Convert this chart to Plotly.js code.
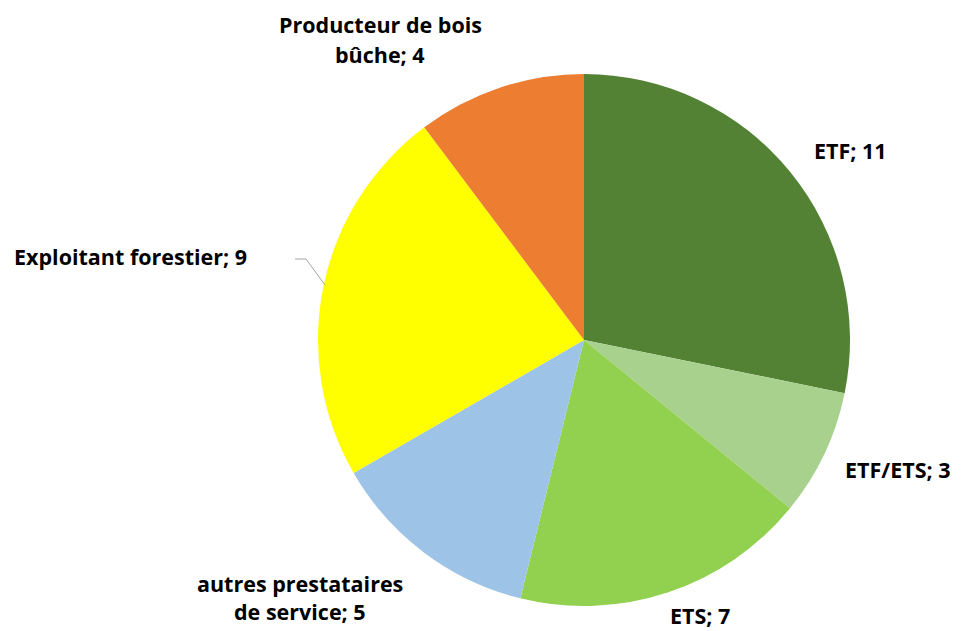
<!DOCTYPE html>
<html>
<head>
<meta charset="utf-8">
<script src="https://cdn.plot.ly/plotly-3.0.1.min.js"></script>
<style>html,body{margin:0;padding:0;background:#fff}#chart{width:963px;height:631px}</style>
</head>
<body>
<div id="chart"></div>
<script>
const categories = ["ETF", "ETF/ETS", "ETS", "autres prestataires de service", "Exploitant forestier", "Producteur de bois bûche"];
const values = [11, 3, 7, 5, 9, 4];
const colors = ["#548235", "#A9D18E", "#92D050", "#9DC3E6", "#FFFF00", "#ED7D31"];
const labelLines = [
  ["ETF; 11"],
  ["ETF/ETS; 3"],
  ["ETS; 7"],
  ["autres prestataires", "de service; 5"],
  ["Exploitant forestier; 9"],
  ["Producteur de bois", "bûche; 4"]
];

const W = 963, H = 631;
const labelPos = [
  [[850, 151]],
  [[898, 469]],
  [[700, 615]],
  [[300, 583], [300, 611]],
  [[130, 256]],
  [[380, 25], [380, 55]]
];

const font = {family: "'Open Sans', sans-serif", size: 21.5, color: "#000", weight: 700};
const annotations = [];
labelLines.forEach((lines, i) => {
  lines.forEach((t, j) => {
    const p = labelPos[i][j];
    annotations.push({
      text: "<b>" + t + "</b>", x: p[0] / W, y: 1 - p[1] / H,
      xref: "paper", yref: "paper", xanchor: "center", yanchor: "middle",
      showarrow: false, font: font
    });
  });
});

const trace = {
  type: "pie",
  labels: categories,
  values: values,
  marker: {colors: colors, line: {width: 0}},
  sort: false,
  direction: "clockwise",
  rotation: 0,
  textinfo: "none",
  hoverinfo: "label+value",
  domain: {x: [318 / W, 850 / W], y: [1 - 606 / H, 1 - 74 / H]}
};

const layout = {
  width: W, height: H,
  margin: {l: 0, r: 0, t: 0, b: 0},
  paper_bgcolor: "#fff",
  showlegend: false,
  annotations: annotations,
  shapes: [{
    type: "path", xref: "paper", yref: "paper",
    path: "M " + (295 / W) + " " + (1 - 259 / H) + " L " + (306 / W) + " " + (1 - 259 / H) + " L " + (325 / W) + " " + (1 - 285 / H),
    line: {color: "#A6A6A6", width: 1}
  }]
};

Plotly.newPlot("chart", [trace], layout, {displayModeBar: false, staticPlot: true});
</script>
</body>
</html>
